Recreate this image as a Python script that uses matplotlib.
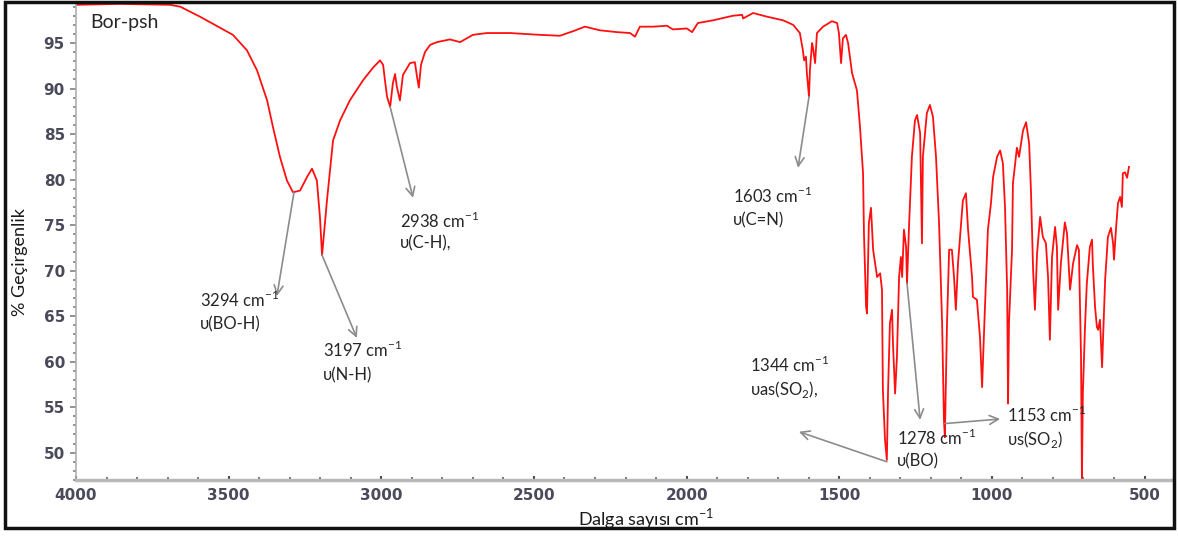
import matplotlib.pyplot as plt
from matplotlib.patches import Rectangle
from matplotlib.ticker import MultipleLocator

# FT-IR spectrum (wavenumber cm-1, % transmittance)
wavenumber = [4000, 3856, 3692, 3659, 3594, 3486, 3440, 3407, 3374, 3355, 3332, 3309, 3289, 3266,
              3243, 3227, 3211, 3201, 3194, 3178, 3158, 3135, 3103, 3060, 3027, 3004, 2994, 2988,
              2981, 2971, 2962, 2955, 2949, 2939, 2929, 2906, 2890, 2883, 2877, 2870, 2857, 2840,
              2818, 2775, 2742, 2700, 2654, 2578, 2480, 2415, 2372, 2333, 2284, 2228, 2185, 2169,
              2153, 2110, 2064, 2045, 1999, 1982, 1963, 1913, 1848, 1818, 1815, 1782, 1737, 1684,
              1651, 1629, 1619, 1615, 1609, 1606, 1599, 1596, 1589, 1586, 1579, 1573, 1553, 1524,
              1507, 1501, 1494, 1488, 1478, 1471, 1458, 1442, 1432, 1422, 1419, 1412, 1409, 1403,
              1396, 1389, 1376, 1366, 1360, 1357, 1350, 1344, 1340, 1334, 1327, 1324, 1317, 1311,
              1304, 1298, 1294, 1288, 1281, 1278, 1271, 1262, 1252, 1245, 1235, 1229, 1226, 1213,
              1203, 1193, 1183, 1173, 1163, 1157, 1154, 1147, 1140, 1131, 1124, 1118, 1111, 1095,
              1085, 1078, 1065, 1062, 1049, 1039, 1032, 1029, 1023, 1013, 1003, 996, 983, 973,
              964, 957, 950, 947, 944, 934, 931, 918, 911, 898, 888, 878, 872, 865, 859, 852,
              842, 833, 823, 816, 810, 803, 793, 787, 783, 774, 761, 754, 744, 734, 721, 715,
              708, 705, 702, 695, 689, 679, 672, 669, 662, 656, 652, 646, 639, 636, 629, 620,
              610, 603, 600, 593, 587, 580, 574, 571, 564, 557, 551]
transmittance = [99.2, 99.3, 99.2, 99.0, 97.9, 95.9, 94.2, 92.0, 88.7, 85.8, 82.5, 79.9, 78.6, 78.8,
                 80.3, 81.2, 79.9, 75.9, 71.7, 77.7, 84.3, 86.5, 88.7, 90.9, 92.3, 93.1, 92.6, 90.9,
                 89.1, 88.0, 90.6, 91.6, 90.2, 88.7, 91.5, 92.8, 92.9, 91.3, 90.1, 92.6, 94.0, 94.8,
                 95.1, 95.4, 95.1, 95.9, 96.1, 96.1, 95.9, 95.8, 96.3, 96.8, 96.4, 96.2, 96.1, 95.7,
                 96.8, 96.8, 96.9, 96.5, 96.6, 96.2, 97.2, 97.5, 98.0, 98.1, 97.7, 98.3, 97.9, 97.5,
                 97.0, 96.1, 94.2, 93.1, 93.5, 91.7, 89.1, 92.0, 95.0, 94.5, 92.8, 96.1, 96.8, 97.4,
                 97.2, 96.1, 92.8, 95.5, 95.9, 95.0, 91.7, 89.8, 85.8, 80.7, 74.1, 66.0, 65.3, 75.2,
                 76.9, 72.3, 69.3, 69.7, 67.9, 56.9, 51.4, 49.2, 56.9, 64.2, 65.7, 62.0, 56.5, 60.5,
                 69.3, 71.5, 69.3, 74.5, 72.6, 68.6, 75.2, 82.5, 86.5, 87.1, 85.1, 73.0, 82.5, 87.3,
                 88.2, 86.9, 82.5, 75.2, 64.2, 53.6, 51.7, 64.2, 72.3, 72.3, 69.3, 65.7, 70.8, 77.7,
                 78.5, 74.5, 69.3, 67.1, 66.8, 62.7, 57.2, 60.2, 65.7, 74.5, 77.4, 80.3, 82.5, 83.2,
                 81.8, 77.0, 67.9, 55.4, 64.2, 72.3, 79.6, 83.5, 82.5, 85.4, 86.3, 84.0, 78.8, 70.1,
                 65.7, 71.9, 75.9, 73.7, 73.0, 69.3, 62.4, 71.5, 74.8, 72.6, 65.7, 70.8, 75.3, 74.1,
                 67.9, 70.8, 72.8, 72.3, 60.5, 47.0, 56.5, 63.8, 68.6, 72.6, 73.4, 70.4, 66.0, 63.8,
                 63.5, 64.6, 59.4, 62.4, 69.0, 73.7, 74.7, 73.0, 71.2, 74.8, 77.4, 78.1, 77.0, 80.7,
                 80.8, 80.2, 81.4]

# peak labels: (line 1, line 2, text x, text y1, text y2, peak point, arrow head)
peak_text1 = ['3294 cm$^{\\mathregular{-1}}$', '3197 cm$^{\\mathregular{-1}}$', '2938 cm$^{\\mathregular{-1}}$',
              '1603 cm$^{\\mathregular{-1}}$', '1344 cm$^{\\mathregular{-1}}$', '1278 cm$^{\\mathregular{-1}}$',
              '1153 cm$^{\\mathregular{-1}}$']
peak_text2 = ['υ(BO-H)', 'υ(N-H)', 'υ(C-H),', 'υ(C=N)', 'υas(SO$_{\\mathregular{2}}$),', 'υ(BO)',
              'υs(SO$_{\\mathregular{2}}$)']
text_x = [3594, 3191, 2939, 1848, 1792, 1311, 951]
text_y1 = [66.8, 61.3, 75.5, 78.2, 59.6, 51.6, 54.1]
text_y2 = [64.1, 58.5, 73.0, 75.5, 56.9, 49.0, 51.4]
tail_xy = [(3286, 78.6), (3194, 71.7), (2971, 88.0), (1599, 89.1), (1344, 49.0), (1278, 68.6), (1154, 53.2)]
head_xy = [(3342, 67.2), (3080, 62.6), (2896, 78.0), (1635, 81.3), (1632, 52.3), (1235, 53.6), (973, 53.7)]

fam = ['Lato', 'Open Sans', 'DejaVu Sans']
plt.rcParams['font.family'] = fam
plt.rcParams['mathtext.fontset'] = 'dejavusans'

fig = plt.figure(figsize=(11.78, 5.38), dpi=100)
ax = fig.add_axes([76 / 1178, 1 - 480 / 538, 1096 / 1178, 477 / 538])

ax.plot(wavenumber, transmittance, color='#ff1010', lw=1.3)
ax.set_xlim(4000, 410)
ax.set_ylim(47.0, 99.4)

ax.xaxis.set_major_locator(MultipleLocator(500))
ax.xaxis.set_minor_locator(MultipleLocator(100))
ax.yaxis.set_major_locator(MultipleLocator(5))
ax.yaxis.set_minor_locator(MultipleLocator(1))

tick_font = dict(family=['Liberation Sans Narrow', 'DejaVu Sans'], weight='bold', size=11)
for lab in ax.get_xticklabels() + ax.get_yticklabels():
    lab.set_fontproperties(tick_font)
    lab.set_color('#4a4a5a')
ax.tick_params(axis='y', which='major', length=4, width=1.2, color='#808080', pad=4)
ax.tick_params(axis='y', which='minor', length=2, width=1.2, color='#808080')
ax.tick_params(axis='x', which='major', direction='in', length=3, width=1.5, color='#505050', pad=6)
ax.tick_params(axis='x', which='minor', direction='in', length=2, width=1.2, color='#606060')

ax.spines['top'].set_visible(False)
ax.spines['right'].set_visible(False)
ax.spines['left'].set_color('#b0b0b0')
ax.spines['left'].set_linewidth(1.2)
ax.spines['bottom'].set_color('#b8b8b8')
ax.spines['bottom'].set_linewidth(2.5)

for t1, t2, tx, ty1, ty2, tail, head in zip(peak_text1, peak_text2, text_x, text_y1, text_y2,
                                             tail_xy, head_xy):
    ax.annotate('', xy=head, xytext=tail,
                arrowprops=dict(arrowstyle='->', color='#8c8c8c', lw=1.2, mutation_scale=16,
                                shrinkA=0, shrinkB=0))
    ax.text(tx, ty1, t1, fontsize=12, color='#262626', ha='left', va='center', family=fam)
    ax.text(tx, ty2, t2, fontsize=12, color='#262626', ha='left', va='center', family=fam)

fig.text(90 / 1178, 1 - 28 / 538, 'Bor-psh', fontsize=14, color='#262626', va='baseline', ha='left')
fig.text(20 / 1178, 1 - 262 / 538, '% Geçirgenlik', fontsize=13, rotation=90,
         ha='center', va='center', color='#1a1a1a')
fig.text(646 / 1178, 1 - 519 / 538, 'Dalga sayısı cm$^{\\mathregular{-1}}$', fontsize=13,
         ha='center', va='center', color='#1a1a1a')

# outer black frame
fig.patches.append(Rectangle((5 / 1178, 1 - 528 / 538), 1169 / 1178, 526 / 538,
                             transform=fig.transFigure, fill=False, edgecolor='#111111', lw=2.5))

plt.savefig('out.png', dpi=100)
